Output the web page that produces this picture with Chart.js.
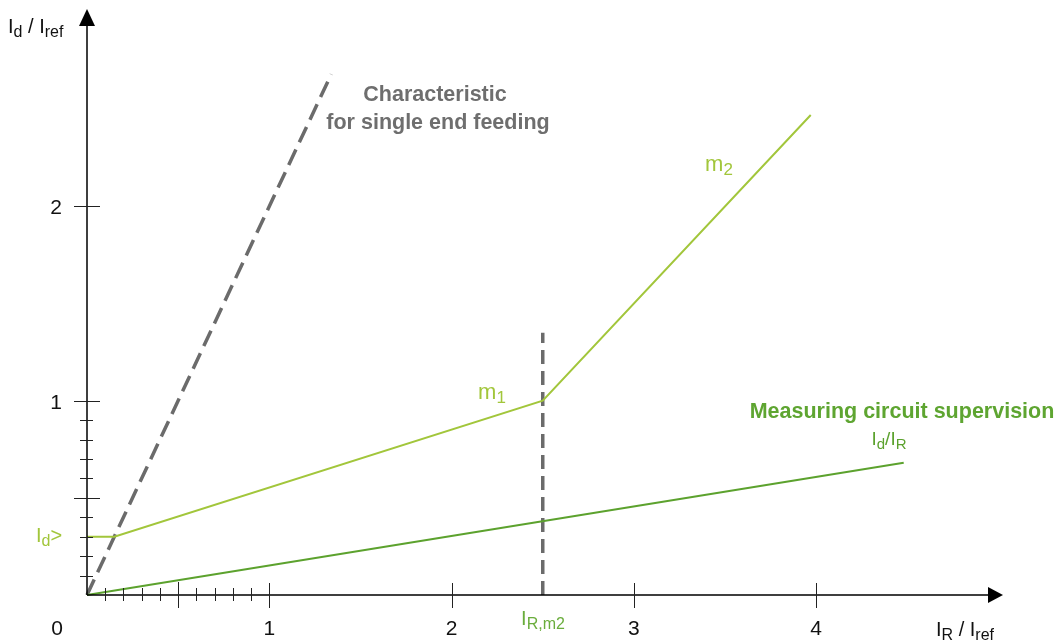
<!DOCTYPE html>
<html lang="en">
<head>
    <meta charset="UTF-8">
    <title>Differential protection characteristic</title>
    <script src="https://cdn.jsdelivr.net/npm/chart.js"></script>
    <style>
        body { margin: 0; background: #ffffff; }
        #wrap { width: 1057px; height: 640px; }
    </style>
</head>
<body>
    <div id="wrap"><canvas id="chart" width="1057" height="640"></canvas></div>

    <script>
        // Curves (x = IR/Iref, y = Id/Iref)
        const singleEndX = [0, 1.34];
        const singleEndY = [0, 2.68];
        const tripX = [0, 0.15, 2.5, 3.97];
        const tripY = [0.3, 0.3, 1.0, 2.47];
        const supervisionX = [0, 4.48];
        const supervisionY = [0, 0.68];
        const irm2X = [2.5, 2.5];
        const irm2Y = [0, 1.35];

        // Axis ticks
        const xMajorTicks = [0, 1, 2, 3, 4];
        const xTickLabels = ['0', '1', '2', '3', '4'];
        const xMinorTicks = [0.1, 0.2, 0.3, 0.4, 0.5, 0.6, 0.7, 0.8, 0.9];
        const yMajorTicks = [1, 2];
        const yTickLabels = ['1', '2'];
        const yMinorTicks = [0.1, 0.2, 0.3, 0.4, 0.5, 0.6, 0.7, 0.8, 0.9];

        const LIGHT = '#a2c63b';
        const DARK = '#5ca22e';
        const GREY = '#6b6b6b';
        const FONT = '"Liberation Sans", Arial, sans-serif';

        const pts = (xs, ys) => xs.map((x, i) => ({ x: x, y: ys[i] }));

        // text with subscripts: parts like ['I', '_d', ' / I', '_ref']
        function rich(ctx, parts, x, y, size, color, align) {
            const sub = Math.round(size * 0.78);
            let w = 0;
            parts.forEach(p => {
                ctx.font = (p[0] === '_' ? sub : size) + 'px ' + FONT;
                w += ctx.measureText(p[0] === '_' ? p.slice(1) : p).width;
            });
            let cx = align === 'center' ? x - w / 2 : x;
            ctx.fillStyle = color;
            ctx.textAlign = 'left';
            ctx.textBaseline = 'alphabetic';
            parts.forEach(p => {
                const isSub = p[0] === '_';
                const t = isSub ? p.slice(1) : p;
                ctx.font = (isSub ? sub : size) + 'px ' + FONT;
                ctx.fillText(t, cx, isSub ? y + 4 : y);
                cx += ctx.measureText(t).width;
            });
        }

        const axesPlugin = {
            id: 'axes',
            afterDatasetsDraw(chart) {
                const ctx = chart.ctx;
                const xs = chart.scales.x, ys = chart.scales.y;
                const x0 = xs.getPixelForValue(0), y0 = ys.getPixelForValue(0);
                ctx.save();
                ctx.strokeStyle = '#000';
                ctx.fillStyle = '#000';
                ctx.lineWidth = 1.5;
                ctx.beginPath();
                ctx.moveTo(x0, y0); ctx.lineTo(x0, 20);
                ctx.moveTo(x0, y0); ctx.lineTo(995, y0);
                ctx.stroke();
                // arrow heads
                ctx.beginPath();
                ctx.moveTo(x0, 9); ctx.lineTo(x0 - 8, 26); ctx.lineTo(x0 + 8, 26); ctx.closePath(); ctx.fill();
                ctx.beginPath();
                ctx.moveTo(1003, y0); ctx.lineTo(988, y0 - 8); ctx.lineTo(988, y0 + 8); ctx.closePath(); ctx.fill();

                ctx.lineWidth = 1;
                ctx.strokeStyle = '#222';
                ctx.beginPath();
                xMinorTicks.forEach(v => {
                    const p = Math.round(xs.getPixelForValue(v)) + 0.5;
                    const big = v === 0.5;
                    ctx.moveTo(p, y0 - (big ? 13 : 7)); ctx.lineTo(p, y0 + (big ? 13 : 6));
                });
                xMajorTicks.slice(1).forEach(v => {
                    const p = Math.round(xs.getPixelForValue(v)) + 0.5;
                    ctx.moveTo(p, y0 - 12); ctx.lineTo(p, y0 + 13);
                });
                yMinorTicks.forEach(v => {
                    const p = Math.round(ys.getPixelForValue(v)) + 0.5;
                    const big = v === 0.5;
                    ctx.moveTo(x0 - (big ? 13 : 7), p); ctx.lineTo(x0 + (big ? 13 : 6), p);
                });
                yMajorTicks.forEach(v => {
                    const p = Math.round(ys.getPixelForValue(v)) + 0.5;
                    ctx.moveTo(x0 - 13, p); ctx.lineTo(x0 + 13, p);
                });
                ctx.stroke();

                // tick labels
                ctx.font = '21px ' + FONT;
                ctx.fillStyle = '#111';
                ctx.textAlign = 'center';
                ctx.textBaseline = 'alphabetic';
                xMajorTicks.forEach((v, i) => {
                    const p = v === 0 ? 57 : xs.getPixelForValue(v);
                    ctx.fillText(xTickLabels[i], p, 635);
                });
                yMajorTicks.forEach((v, i) => {
                    ctx.fillText(yTickLabels[i], 56, ys.getPixelForValue(v) + 8);
                });

                // axis titles
                rich(ctx, ['I', '_d', ' / I', '_ref'], 8, 33, 20, '#111', 'left');
                rich(ctx, ['I', '_R', ' / I', '_ref'], 936, 636, 20, '#111', 'left');

                // annotations
                ctx.font = 'bold 21.5px ' + FONT;
                ctx.fillStyle = '#6e6e6e';
                ctx.textAlign = 'center';
                ctx.fillText('Characteristic', 435, 101);
                ctx.fillText('for single end feeding', 438, 129);
                ctx.fillStyle = '#5ea531';
                ctx.fillText('Measuring circuit supervision', 902, 418);

                rich(ctx, ['I', '_d', '/I', '_R'], 889, 445, 19, DARK, 'center');
                rich(ctx, ['m', '_2'], 719, 171, 22, LIGHT, 'center');
                rich(ctx, ['m', '_1'], 492, 399, 22, LIGHT, 'center');
                rich(ctx, ['I', '_d', '>'], 36, 542, 20, LIGHT, 'left');
                rich(ctx, ['I', '_R,m2'], 543, 625, 20, '#6aad3c', 'center');
                ctx.restore();
            }
        };

        const line = (data, color, width, dash) => ({
            data: data,
            showLine: true,
            borderColor: color,
            borderWidth: width,
            borderDash: dash || [],
            pointRadius: 0,
            tension: 0,
            fill: false,
            clip: false
        });

        new Chart(document.getElementById('chart'), {
            type: 'scatter',
            data: {
                datasets: [
                    line(pts(supervisionX, supervisionY), DARK, 2),
                    line(pts(tripX, tripY), LIGHT, 2),
                    line(pts(singleEndX, singleEndY), GREY, 3.5, [17, 8]),
                    line(pts(irm2X, irm2Y), GREY, 3.5, [14, 7])
                ]
            },
            options: {
                responsive: false,
                animation: false,
                layout: { padding: { left: 87, right: 58.5, top: 12, bottom: 45 } },
                plugins: { legend: { display: false }, tooltip: { enabled: false } },
                scales: {
                    x: { type: 'linear', min: 0, max: 5, display: false },
                    y: { type: 'linear', min: 0, max: 3, display: false }
                }
            },
            plugins: [axesPlugin]
        });
    </script>
</body>
</html>
